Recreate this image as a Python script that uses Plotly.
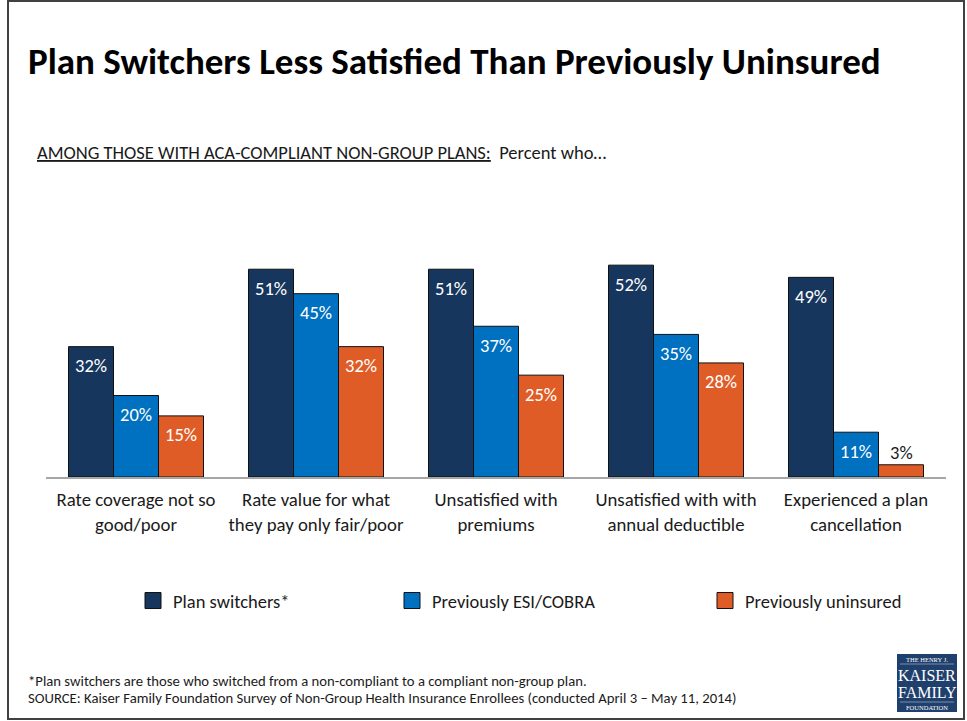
import plotly.graph_objects as go

# ---- data -------------------------------------------------------------
categories = [
    "Rate coverage not so<br>good/poor",
    "Rate value for what<br>they pay only fair/poor",
    "Unsatisfied with<br>premiums",
    "Unsatisfied with with<br>annual deductible",
    "Experienced a plan<br>cancellation",
]
series_names = ["Plan switchers*", "Previously ESI/COBRA", "Previously uninsured"]
plan_switchers = [32, 51, 51, 52, 49]
previously_esi_cobra = [20, 45, 37, 35, 11]
previously_uninsured = [15, 32, 25, 28, 3]
series_values = [plan_switchers, previously_esi_cobra, previously_uninsured]

colors = ["#17365D", "#0070C0", "#E05C27"]
FONT = "Carlito, Lato, sans-serif"
TXT = "#1a1a1a"

W, H = 967, 721
ML, MR, MT, MB = 46, 21, 257, 244
PW, PH = W - ML - MR, H - MT - MB


def px(x):
    return (x - ML) / PW


def py(y):
    return (H - MB - y) / PH


fig = go.Figure()

bargap = 0.25
nser = len(series_values)
bw = (1 - bargap) / nser

for j, (name, vals, col) in enumerate(zip(series_names, series_values, colors)):
    fig.add_trace(go.Bar(
        x=categories, y=vals, name=name,
        marker=dict(color=col, line=dict(color="#111111", width=1)),
        showlegend=False, hoverinfo="skip",
    ))

# value labels
for j, vals in enumerate(series_values):
    off = (j - (nser - 1) / 2) * bw
    for i, v in enumerate(vals):
        inside = v >= 6
        fig.add_annotation(
            x=i + off, y=v, xref="x", yref="y",
            text=f"{v}%", showarrow=False,
            yanchor="middle", yshift=-19 if inside else 12,
            font=dict(family=FONT, size=18.5, color="white" if inside else TXT),
        )

# legend entries: one separate legend per series so each sits at its own spot
legend_x = [133, 392, 705]
for j, (name, col) in enumerate(zip(series_names, colors)):
    lg = "legend" if j == 0 else f"legend{j + 1}"
    fig.add_trace(go.Scatter(
        x=[None], y=[None], mode="markers", name=name, legend=lg,
        marker=dict(symbol="square", size=17, color=col,
                    line=dict(color="#111111", width=1)),
        showlegend=True, hoverinfo="skip",
    ))

legend_common = dict(
    orientation="h", xanchor="left", yanchor="middle", y=py(601),
    font=dict(family=FONT, size=18.5, color=TXT), bgcolor="rgba(0,0,0,0)",
    itemsizing="trace",
)
fig.update_layout(
    legend=dict(x=px(legend_x[0]), **legend_common),
    legend2=dict(x=px(legend_x[1]), **legend_common),
    legend3=dict(x=px(legend_x[2]), **legend_common),
)

# slide frame
fig.add_shape(type="rect", xref="paper", yref="paper",
              x0=px(8), x1=px(964), y0=py(719), y1=py(1),
              line=dict(color="#404040", width=2), fillcolor="rgba(0,0,0,0)",
              layer="below")

# title / subtitle / notes
fig.add_annotation(xref="paper", yref="paper", x=px(26), y=py(61),
                   xanchor="left", yanchor="middle", showarrow=False,
                   text="<b>Plan Switchers Less Satisfied Than Previously Uninsured</b>",
                   font=dict(family=FONT, size=37, color="#000000"))
fig.add_annotation(xref="paper", yref="paper", x=px(35), y=py(152),
                   xanchor="left", yanchor="middle", showarrow=False,
                   text="<u>AMONG THOSE WITH ACA-COMPLIANT NON-GROUP PLANS:</u>  Percent who…",
                   font=dict(family=FONT, size=18.5, color=TXT))
fig.add_annotation(xref="paper", yref="paper", x=px(26), y=py(681),
                   xanchor="left", yanchor="middle", showarrow=False,
                   text="*Plan switchers are those who switched from a non-compliant to a compliant non-group plan.",
                   font=dict(family=FONT, size=14.7, color=TXT))
fig.add_annotation(xref="paper", yref="paper", x=px(26), y=py(698),
                   xanchor="left", yanchor="middle", showarrow=False,
                   text="SOURCE: Kaiser Family Foundation Survey of Non-Group Health Insurance Enrollees (conducted April 3 – May 11, 2014)",
                   font=dict(family=FONT, size=14.7, color=TXT))

# foundation logo
LOGO = "#1F3F6C"
SERIF = "Liberation Serif, DejaVu Serif, serif"
fig.add_shape(type="rect", xref="paper", yref="paper",
              x0=px(897), x1=px(957), y0=py(712), y1=py(654),
              line=dict(width=0), fillcolor=LOGO)
for yy in (664, 702):
    fig.add_shape(type="line", xref="paper", yref="paper",
                  x0=px(900), x1=px(954), y0=py(yy), y1=py(yy),
                  line=dict(color="rgba(255,255,255,0.7)", width=0.6))
for txt, yy, sz in [("THE HENRY J.", 659.5, 6.5), ("KAISER", 675, 16),
                    ("FAMILY", 692, 16), ("FOUNDATION", 707, 6.5)]:
    fig.add_annotation(xref="paper", yref="paper", x=px(927), y=py(yy),
                       xanchor="center", yanchor="middle", showarrow=False,
                       text=txt, font=dict(family=SERIF, size=sz, color="white"))

fig.update_layout(
    width=W, height=H,
    margin=dict(l=ML, r=MR, t=MT, b=MB, pad=0),
    paper_bgcolor="white", plot_bgcolor="white",
    barmode="group", bargap=bargap, bargroupgap=0,
    xaxis=dict(type="category", showgrid=False, zeroline=False,
               showline=True, linecolor="#A6A6A6", linewidth=1.5,
               ticks="", ticklabelstandoff=5,
               tickfont=dict(family=FONT, size=18.8, color=TXT),
               range=[-0.5, len(categories) - 0.5]),
    yaxis=dict(range=[0, 54], visible=False, showgrid=False, zeroline=False),
    showlegend=True,
)

fig.write_html("out.html")
